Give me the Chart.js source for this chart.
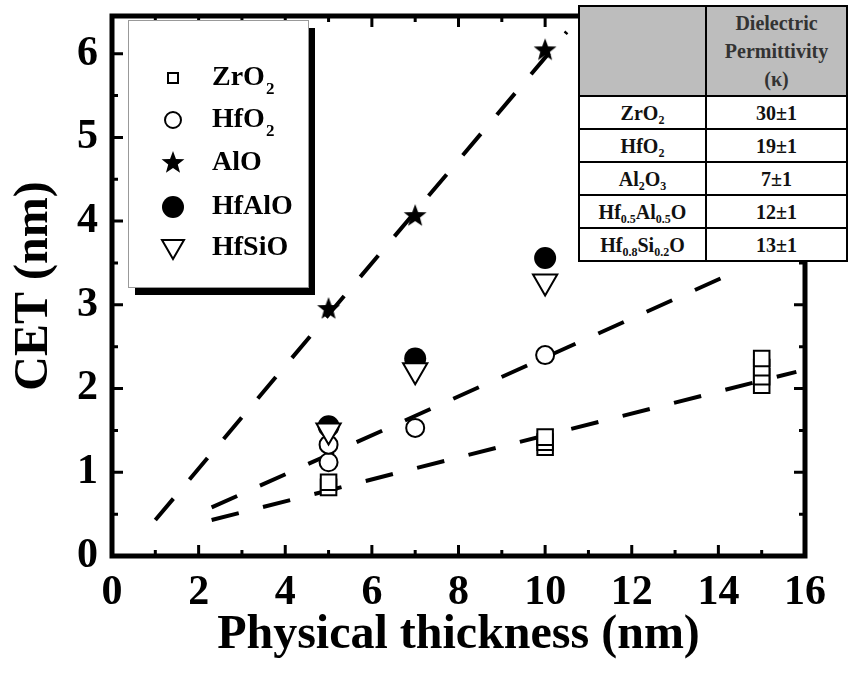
<!DOCTYPE html>
<html>
<head>
<meta charset="utf-8">
<script src="https://cdn.jsdelivr.net/npm/chart.js@4.4.0/dist/chart.umd.min.js"></script>
<style>
  body { margin: 0; background: #fff; }
  #wrap { position: relative; width: 854px; height: 682px; }
  #kappa {
    position: absolute; left: 578px; top: 5px; width: 270px;
    border-collapse: collapse; background: #fff;
    font: bold 20px "Liberation Serif", "Times New Roman", serif; color: #111;
  }
  #kappa td { border: 2px solid #000; text-align: center; padding: 0; height: 31px; line-height: 1; }
  #kappa tr.head td { background: #bdbdbd; height: 88px; color: #333; line-height: 28px; }
  #kappa sub { font-size: 0.6em; vertical-align: -0.35em; line-height: 0; }
</style>
</head>
<body>
<div id="wrap">
  <canvas id="cet" width="854" height="682"></canvas>
  <table id="kappa"></table>
</div>
<script>
// measured CET vs physical thickness
const zrX = [5, 5, 10, 10, 10, 15, 15, 15, 15];
const zrY = [0.82, 0.88, 1.30, 1.36, 1.42, 2.04, 2.14, 2.25, 2.36];
const hfoX = [5, 5, 7, 10];
const hfoY = [1.12, 1.33, 1.53, 2.40];
const aloX = [5, 7, 10];
const aloY = [2.95, 4.06, 6.04];
const hfaloX = [5, 7, 10];
const hfaloY = [1.55, 2.36, 3.56];
const hfsioX = [5, 7, 10];
const hfsioY = [1.50, 2.22, 3.28];

// dashed linear fits
const aloFitX = [1.0, 10.5];
const aloFitY = [0.43, 6.26];
const hfFitX = [2.3, 14.5];
const hfFitY = [0.58, 3.42];
const zrFitX = [2.3, 15.8];
const zrFitY = [0.43, 2.20];

// permittivity table
const films = ['ZrO<sub>2</sub>', 'HfO<sub>2</sub>', 'Al<sub>2</sub>O<sub>3</sub>',
  'Hf<sub>0.5</sub>Al<sub>0.5</sub>O', 'Hf<sub>0.8</sub>Si<sub>0.2</sub>O'];
const kappas = ['30±1', '19±1', '7±1', '12±1', '13±1'];

const serif = '"Liberation Serif", "Times New Roman", serif';

// table
const tbl = document.getElementById('kappa');
let html = '<tr class="head"><td style="width:125px"></td><td>Dielectric<br>Permittivity<br>(κ)</td></tr>';
films.forEach((f, i) => { html += '<tr><td>' + f + '</td><td>' + kappas[i] + '</td></tr>'; });
tbl.innerHTML = html;

const pts = (xs, ys) => xs.map((v, i) => ({ x: v, y: ys[i] }));

// filled five-point star used as point style
function starImage(r) {
  const c = document.createElement('canvas');
  c.width = c.height = Math.ceil(r * 2 + 2);
  const g = c.getContext('2d');
  const cx = c.width / 2, cy = c.height / 2;
  g.beginPath();
  for (let i = 0; i < 10; i++) {
    const rr = i % 2 === 0 ? r : r * 0.42;
    const a = -Math.PI / 2 + i * Math.PI / 5;
    g.lineTo(cx + rr * Math.cos(a), cy + rr * Math.sin(a));
  }
  g.closePath();
  g.fillStyle = '#000';
  g.fill();
  return c;
}
const star = starImage(12);

const fitLine = (xs, ys) => ({
  type: 'line', data: pts(xs, ys), borderColor: '#000', borderWidth: 4,
  borderDash: [28, 25], pointRadius: 0, fill: false, order: 10
});

// frame with inward ticks on all four sides
const frame = {
  id: 'frame',
  beforeDatasetsDraw(chart) {
    const { ctx, chartArea: a, scales: { x, y } } = chart;
    ctx.save();
    ctx.strokeStyle = '#000';
    ctx.lineWidth = 3;
    ctx.beginPath();
    for (let v = 0; v <= 16; v += 1) {
      const px = x.getPixelForValue(v);
      const len = v % 2 === 0 ? 11 : 6;
      ctx.moveTo(px, a.bottom); ctx.lineTo(px, a.bottom - len);
      ctx.moveTo(px, a.top); ctx.lineTo(px, a.top + len);
    }
    for (let v = 0; v <= 6; v += 0.5) {
      const py = y.getPixelForValue(v);
      const len = v % 1 === 0 ? 11 : 6;
      ctx.moveTo(a.left, py); ctx.lineTo(a.left + len, py);
      ctx.moveTo(a.right, py); ctx.lineTo(a.right - len, py);
    }
    ctx.stroke();
    ctx.lineWidth = 5;
    ctx.strokeRect(a.left, a.top, a.right - a.left, a.bottom - a.top);
    ctx.restore();
  }
};

// boxed legend with drop shadow
const legendBox = {
  id: 'legendBox',
  afterDatasetsDraw(chart) {
    const ctx = chart.ctx;
    const bx = 128, by = 20, bw = 180, bh = 267;
    ctx.save();
    ctx.fillStyle = '#000';
    ctx.fillRect(bx + 7, by + 8, bw, bh);
    ctx.fillStyle = '#fff';
    ctx.fillRect(bx, by, bw, bh);
    ctx.strokeStyle = '#999';
    ctx.lineWidth = 1;
    ctx.strokeRect(bx + 0.5, by + 0.5, bw, bh);

    const sx = 173, tx = 212;
    const rows = [78, 120, 163, 207, 248];
    ctx.strokeStyle = '#000';
    ctx.lineWidth = 2;
    // square
    ctx.fillStyle = '#fff';
    ctx.fillRect(sx - 5, rows[0] - 5, 10, 10);
    ctx.strokeRect(sx - 5, rows[0] - 5, 10, 10);
    // open circle
    ctx.beginPath(); ctx.arc(sx, rows[1], 8, 0, Math.PI * 2); ctx.stroke();
    // star
    ctx.drawImage(star, sx - star.width / 2, rows[2] - star.height / 2);
    // filled circle
    ctx.fillStyle = '#000';
    ctx.beginPath(); ctx.arc(sx, rows[3], 11, 0, Math.PI * 2); ctx.fill();
    // down triangle
    ctx.beginPath();
    ctx.moveTo(sx - 11, rows[4] - 8); ctx.lineTo(sx + 11, rows[4] - 8); ctx.lineTo(sx, rows[4] + 11);
    ctx.closePath(); ctx.stroke();

    const labels = [['ZrO', '2'], ['HfO', '2'], ['AlO', ''], ['HfAlO', ''], ['HfSiO', '']];
    ctx.fillStyle = '#000';
    ctx.textBaseline = 'middle';
    labels.forEach((l, i) => {
      ctx.font = 'bold 28px ' + serif;
      ctx.fillText(l[0], tx, rows[i]);
      if (l[1]) {
        const w = ctx.measureText(l[0]).width;
        ctx.font = 'bold 17px ' + serif;
        ctx.fillText(l[1], tx + w + 1, rows[i] + 12);
      }
    });
    ctx.restore();
  }
};

new Chart(document.getElementById('cet'), {
  type: 'scatter',
  data: {
    datasets: [
      { label: 'HfSiO', data: pts(hfsioX, hfsioY), pointStyle: 'triangle', rotation: 180,
        pointRadius: 14, pointBorderWidth: 2, pointBackgroundColor: '#fff', pointBorderColor: '#000', order: 0 },
      { label: 'HfAlO', data: pts(hfaloX, hfaloY), pointStyle: 'circle',
        pointRadius: 11, pointBorderWidth: 0, pointBackgroundColor: '#000', pointBorderColor: '#000', order: 1 },
      { label: 'AlO', data: pts(aloX, aloY), pointStyle: star, order: 2 },
      { label: 'HfO2', data: pts(hfoX, hfoY), pointStyle: 'circle',
        pointRadius: 9, pointBorderWidth: 2, pointBackgroundColor: '#fff', pointBorderColor: '#000', order: 3 },
      { label: 'ZrO2', data: pts(zrX, zrY), pointStyle: 'rect',
        pointRadius: 11, pointBorderWidth: 2, pointBackgroundColor: '#fff', pointBorderColor: '#000', order: 4 },
      fitLine(aloFitX, aloFitY),
      fitLine(hfFitX, hfFitY),
      fitLine(zrFitX, zrFitY)
    ]
  },
  options: {
    responsive: false,
    devicePixelRatio: 1,
    animation: false,
    layout: { padding: { top: 10, right: 49, left: 0, bottom: 0 } },
    plugins: { legend: { display: false }, tooltip: { enabled: false } },
    scales: {
      x: {
        type: 'linear', min: 0, max: 16,
        ticks: { stepSize: 2, color: '#000', padding: 12, maxRotation: 0,
          font: { family: serif, size: 42, weight: 'bold' } },
        grid: { display: false, drawTicks: false },
        border: { display: false },
        title: { display: true, text: 'Physical thickness (nm)', color: '#000',
          font: { family: serif, size: 48, weight: 'bold' }, padding: { top: 0, bottom: 18 } },
        afterFit: s => { s.height = 126; s.paddingLeft = 0; s.paddingRight = 0; }
      },
      y: {
        type: 'linear', min: 0, max: 6.45,
        ticks: { stepSize: 1, includeBounds: false, color: '#000', padding: 14,
          font: { family: serif, size: 42, weight: 'bold' } },
        grid: { display: false, drawTicks: false },
        border: { display: false },
        title: { display: true, text: 'CET (nm)', color: '#000',
          font: { family: serif, size: 48, weight: 'bold' }, padding: { top: 6, bottom: 0 } },
        afterFit: s => { s.width = 112; s.paddingTop = 0; s.paddingBottom = 0; }
      }
    }
  },
  plugins: [frame, legendBox]
});
</script>
</body>
</html>
